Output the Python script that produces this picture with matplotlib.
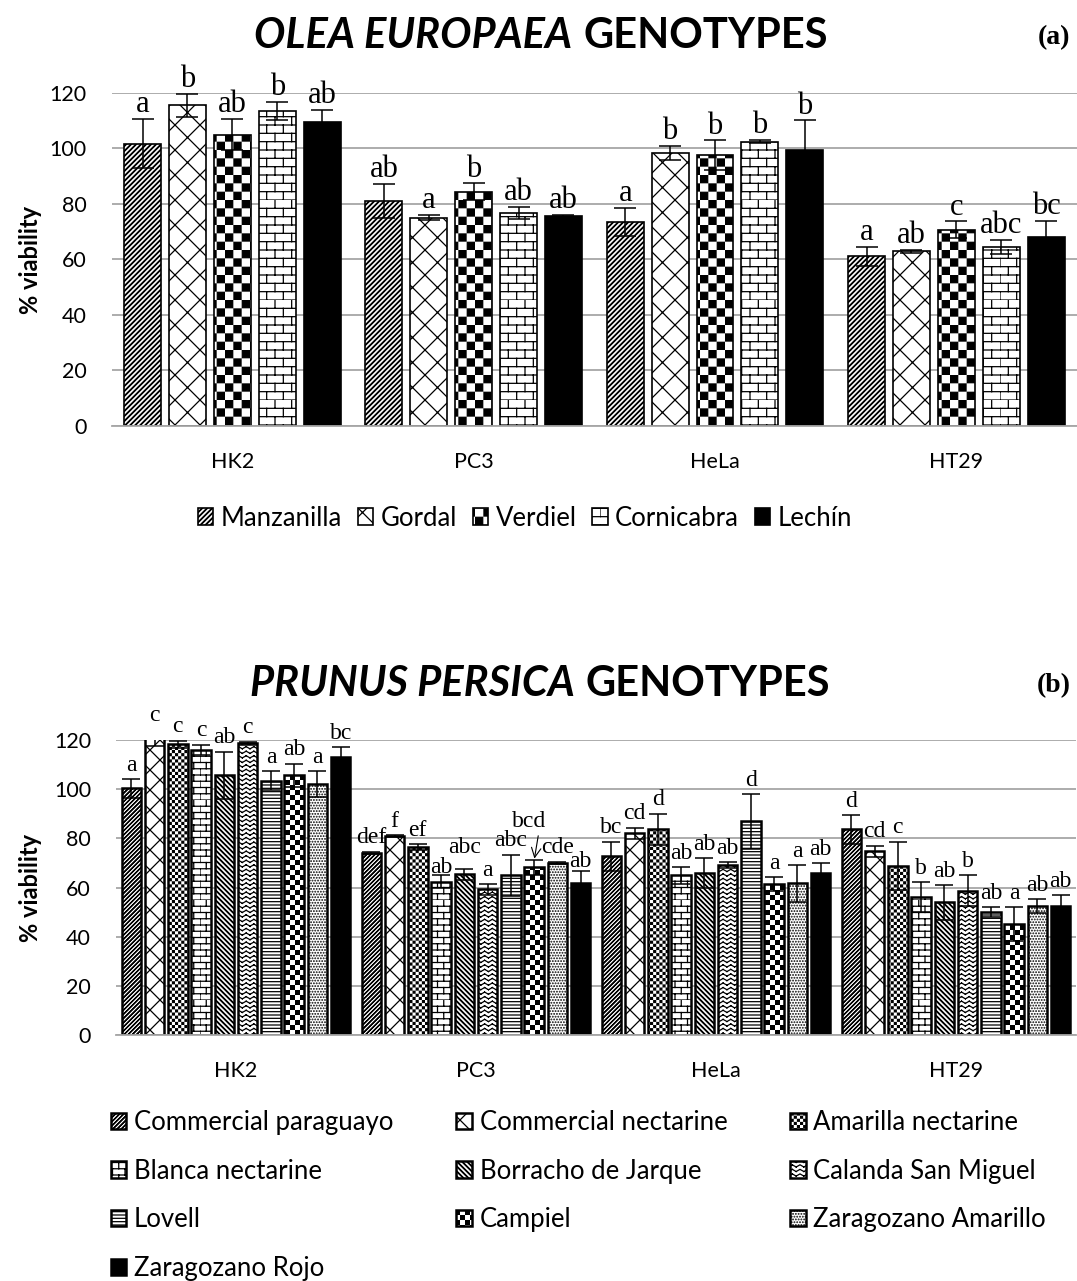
import warnings
import numpy as np
import matplotlib
matplotlib.use('Agg')
import matplotlib.pyplot as plt
import matplotlib.hatch as mhatch
from matplotlib.path import Path

warnings.filterwarnings('ignore', message='.*hatch must consist.*')

# --- Dados ---

CELL_LINES = ['HK2', 'PC3', 'HeLa', 'HT29']

OLIVE_NAMES = ['Manzanilla', 'Gordal', 'Verdiel', 'Cornicabra', 'Lechín']
# média (% viabilidade) por genótipo, na ordem HK2, PC3, HeLa, HT29
OLIVE_MEAN = [
    [101.8, 81.1, 73.6, 61.1],
    [115.6, 75.0, 98.3, 63.0],
    [105.0, 84.4, 97.5, 70.7],
    [113.5, 76.8, 102.5, 64.5],
    [109.5, 75.5, 99.4, 68.0],
]
OLIVE_SD = [
    [8.7, 6.0, 5.0, 3.5],
    [4.2, 0.9, 2.5, 0.5],
    [5.5, 3.0, 5.4, 3.0],
    [3.3, 2.2, 0.5, 2.6],
    [4.5, 0.5, 10.7, 6.0],
]
OLIVE_LETTERS = [
    ['a', 'ab', 'a', 'a'],
    ['b', 'a', 'b', 'ab'],
    ['ab', 'b', 'b', 'c'],
    ['b', 'ab', 'b', 'abc'],
    ['ab', 'ab', 'b', 'bc'],
]

PEACH_NAMES = ['Commercial paraguayo', 'Commercial nectarine', 'Amarilla nectarine',
               'Blanca nectarine', 'Borracho de Jarque', 'Calanda San Miguel',
               'Lovell', 'Campiel', 'Zaragozano Amarillo', 'Zaragozano Rojo']
PEACH_MEAN = [
    [100.3, 74.1, 72.7, 83.6],
    [121.0, 81.0, 82.0, 74.8],
    [118.2, 76.5, 83.7, 68.7],
    [116.1, 62.3, 64.9, 56.1],
    [105.7, 65.4, 66.0, 53.9],
    [118.6, 59.2, 69.0, 58.7],
    [103.5, 65.0, 86.9, 49.9],
    [105.7, 68.2, 61.4, 45.1],
    [102.0, 70.0, 61.7, 52.4],
    [113.1, 61.9, 66.1, 52.4],
]
PEACH_SD = [
    [3.8, 0.5, 5.9, 5.8],
    [3.5, 0.3, 2.3, 2.2],
    [1.5, 1.1, 6.3, 9.9],
    [2.0, 2.7, 3.4, 6.2],
    [9.5, 2.3, 6.0, 7.0],
    [0.7, 2.2, 1.2, 6.4],
    [3.8, 8.4, 11.1, 2.0],
    [4.7, 3.0, 2.7, 6.8],
    [5.3, 0.5, 7.4, 2.8],
    [4.1, 5.0, 3.7, 4.5],
]
PEACH_LETTERS = [
    ['a', 'def', 'bc', 'd'],
    ['c', 'f', 'cd', 'cd'],
    ['c', 'ef', 'd', 'c'],
    ['c', 'ab', 'ab', 'b'],
    ['ab', 'abc', 'ab', 'ab'],
    ['c', 'a', 'ab', 'b'],
    ['a', 'abc', 'd', 'ab'],
    ['ab', 'bcd', 'a', 'a'],
    ['a', 'cde', 'a', 'ab'],
    ['bc', 'ab', 'ab', 'ab'],
]
# letra desenhada acima da barra, com seta (genótipo, linha celular)
PEACH_ARROW_LABEL = (7, 1)
# ajuste vertical (pontos) de algumas letras para não se sobreporem
PEACH_LABEL_NUDGE = {(3, 1): -4.5, (4, 1): 5.0, (9, 1): -3.5}


# --- Padrões de preenchimento extra ---

def _inset():
    # o traço do hatch engrossa as formas cheias; compensa metade da espessura
    return plt.rcParams['hatch.linewidth'] / 144.0


class CheckerHatch(mhatch.HatchPatternBase):
    def __init__(self, hatch, density):
        self.n = 2 * hatch.count('c')
        self.num_vertices = (self.n * self.n // 2) * 5

    def set_vertices_and_codes(self, vertices, codes):
        n = self.n
        s = 1.0 / n
        ins = _inset()
        k = 0
        for i in range(n):
            for j in range(n):
                if (i + j) % 2:
                    continue
                x0, y0 = i * s + ins, j * s + ins
                x1, y1 = (i + 1) * s - ins, (j + 1) * s - ins
                vertices[k:k + 5] = [(x0, y0), (x1, y0), (x1, y1), (x0, y1), (x0, y0)]
                codes[k:k + 5] = [Path.MOVETO, Path.LINETO, Path.LINETO,
                                  Path.LINETO, Path.CLOSEPOLY]
                k += 5


class StripeHatch(mhatch.HatchPatternBase):
    # faixas diagonais cheias: 's' sobe para a direita, 'r' desce
    def __init__(self, hatch, density):
        self.n_up = 2 * hatch.count('s')
        self.n_down = 2 * hatch.count('r')
        self.num_vertices = 5 * ((2 * self.n_up + 1 if self.n_up else 0) +
                                 (2 * self.n_down + 1 if self.n_down else 0))

    def set_vertices_and_codes(self, vertices, codes):
        k = 0
        ins = _inset()
        for n, up in [(self.n_up, True), (self.n_down, False)]:
            if not n:
                continue
            t = 0.42 / n - 2 * ins
            for j in range(-n, n + 1):
                x0 = j / n
                if up:
                    pts = [(x0, 0), (x0 + t, 0), (x0 + t + 1, 1), (x0 + 1, 1), (x0, 0)]
                else:
                    pts = [(x0, 1), (x0 + t, 1), (x0 + t + 1, 0), (x0 + 1, 0), (x0, 1)]
                vertices[k:k + 5] = pts
                codes[k:k + 5] = [Path.MOVETO, Path.LINETO, Path.LINETO,
                                  Path.LINETO, Path.CLOSEPOLY]
                k += 5


class BrickHatch(mhatch.HatchPatternBase):
    def __init__(self, hatch, density):
        self.rows = 2 * hatch.count('b')
        self.cols = self.rows // 2
        self.num_vertices = (self.rows + self.rows * self.cols) * 2

    def set_vertices_and_codes(self, vertices, codes):
        h = 1.0 / self.rows
        w = 1.0 / self.cols
        segs = []
        for r in range(self.rows):
            y = r * h
            segs.append([(0.0, y), (1.0, y)])
            shift = 0.5 * w * (r % 2)
            for c in range(self.cols):
                x = c * w + shift
                segs.append([(x, y), (x, y + h)])
        vertices[:] = np.array(segs).reshape(-1, 2)
        codes[0::2] = Path.MOVETO
        codes[1::2] = Path.LINETO


class ZigzagHatch(mhatch.HatchPatternBase):
    def __init__(self, hatch, density):
        self.rows = 2 * hatch.count('z')
        self.waves = int(round(self.rows * 0.6))
        self.num_vertices = self.rows * self.waves * 2 * 2

    def set_vertices_and_codes(self, vertices, codes):
        xs = np.linspace(0.0, 1.0, 2 * self.waves + 1)
        amp = 0.24 / self.rows
        sign = (-1.0) ** np.arange(len(xs))
        segs = []
        for r in range(self.rows):
            ys = (r + 0.5) / self.rows + amp * sign
            pts = np.column_stack([xs, ys])
            for a, b in zip(pts[:-1], pts[1:]):
                segs.append([a, b])
        vertices[:] = np.array(segs).reshape(-1, 2)
        codes[0::2] = Path.MOVETO
        codes[1::2] = Path.LINETO


class DiamondHatch(mhatch.HatchPatternBase):
    def __init__(self, hatch, density):
        self.n = 2 * hatch.count('d')
        self.num_vertices = (self.n + 1) * 4 if self.n else 0

    def set_vertices_and_codes(self, vertices, codes):
        steps = np.linspace(-0.5, 0.5, self.n + 1)
        m = 2 * (self.n + 1)
        ne, nw = vertices[:m], vertices[m:]
        ne[0::2, 0], ne[0::2, 1] = steps, -steps
        ne[1::2, 0], ne[1::2, 1] = 1.0 + steps, 1.0 - steps
        nw[0::2, 0], nw[0::2, 1] = steps, 1.0 + steps
        nw[1::2, 0], nw[1::2, 1] = 1.0 + steps, steps
        codes[0::2] = Path.MOVETO
        codes[1::2] = Path.LINETO


mhatch._hatch_types.extend([CheckerHatch, StripeHatch, BrickHatch,
                            ZigzagHatch, DiamondHatch])

# --- Estilo ---

plt.rcParams['font.family'] = ['Lato', 'DejaVu Sans']
plt.rcParams['hatch.linewidth'] = 0.9

GRID_COLOR = '#a6a6a6'
SERIF = 'Liberation Serif'

OLIVE_HATCH = ['s' * 10, 'dddd', 'cccccc', 'bbbbbb', None]
OLIVE_FACE = ['white', 'white', 'white', 'white', 'black']
PEACH_HATCH = ['s' * 12, 'ddddd', 'c' * 16, 'b' * 8, 'r' * 10, 'z' * 11,
               '-----', 'c' * 10, '......', None]
PEACH_FACE = ['white'] * 9 + ['black']

W, H = 1077, 1281


def draw_panel(ax, names, means, sds, letters, hatches, faces, step, width,
               edge_lw, cap, label_size, label_off, arrow_label=None, nudge=None):
    nudge = nudge or {}
    n = len(names)
    xpos = np.arange(len(CELL_LINES))
    handles = []
    for i in range(n):
        x = xpos + (i - (n - 1) / 2) * step
        bars = ax.bar(x, means[i], width, color=faces[i], edgecolor='black',
                      hatch=hatches[i], linewidth=edge_lw, label=names[i], zorder=2)
        handles.append(bars)
        ax.errorbar(x, means[i], yerr=sds[i], fmt='none', ecolor='black',
                    elinewidth=1.1, capsize=cap, capthick=1.1, zorder=3)
        for j in range(len(CELL_LINES)):
            top = means[i][j] + sds[i][j]
            if arrow_label == (i, j):
                ax.annotate(letters[i][j], xy=(x[j], top), xytext=(-4, 24),
                            textcoords='offset points', ha='center', va='baseline',
                            fontfamily=SERIF, fontsize=label_size, annotation_clip=False,
                            arrowprops=dict(arrowstyle='->', lw=0.8, color='black',
                                            shrinkA=1, shrinkB=1,
                                            relpos=(0.8, 0.0)))
            else:
                off = label_off + nudge.get((i, j), 0.0)
                ax.annotate(letters[i][j], xy=(x[j], top), xytext=(0, off),
                            textcoords='offset points', ha='center', va='baseline',
                            fontfamily=SERIF, fontsize=label_size, annotation_clip=False)

    ax.set_xlim(-0.5, len(CELL_LINES) - 0.5)
    ax.set_ylim(0, 120)
    ax.set_yticks(range(0, 121, 20))
    ax.set_xticks(xpos)
    ax.set_xticklabels(CELL_LINES)
    ax.set_axisbelow(True)
    ax.grid(axis='y', color=GRID_COLOR, linewidth=1.3)
    for side in ['top', 'right', 'left']:
        ax.spines[side].set_visible(False)
    ax.spines['bottom'].set_color(GRID_COLOR)
    ax.spines['bottom'].set_linewidth(1.3)
    ax.tick_params(axis='y', length=0, pad=18, labelsize=15.5)
    ax.tick_params(axis='x', length=0, pad=19, labelsize=15.5)
    return handles


def add_title(fig, italic_part, plain_part, cx, base_y, size):
    renderer = fig.canvas.get_renderer()
    t1 = fig.text(0, 1 - base_y / H, italic_part, fontsize=size, fontweight='bold',
                  fontstyle='italic', ha='left', va='baseline')
    t2 = fig.text(0, 1 - base_y / H, plain_part, fontsize=size, fontweight='bold',
                  ha='left', va='baseline')
    w1 = t1.get_window_extent(renderer).width
    w2 = t2.get_window_extent(renderer).width
    gap = 0.27 * size * fig.dpi / 72
    x0 = cx - (w1 + gap + w2) / 2
    t1.set_x(x0 / W)
    t2.set_x((x0 + w1 + gap) / W)


def main():
    fig = plt.figure(figsize=(W / 100, H / 100), dpi=100)

    # (a) Olea europaea
    ax_a = fig.add_axes([111.7 / W, 1 - 426 / H, (1077 - 111.7) / W, 333 / H])
    h_a = draw_panel(ax_a, OLIVE_NAMES, OLIVE_MEAN, OLIVE_SD, OLIVE_LETTERS,
                     OLIVE_HATCH, OLIVE_FACE, step=0.186, width=0.153, edge_lw=1.2,
                     cap=8, label_size=22, label_off=5)
    fig.text(30 / W, 1 - 260 / H, '% viability', rotation=90, fontsize=17,
             fontweight='bold', ha='center', va='center')
    add_title(fig, 'OLEA EUROPAEA', 'GENOTYPES', 541, 48, 30)
    fig.text(1054 / W, 1 - 44 / H, '(a)', fontfamily=SERIF, fontweight='bold',
             fontsize=20, ha='center', va='baseline')
    fig.legend(handles=h_a, loc='center', bbox_to_anchor=(525 / W, 1 - 518 / H),
               ncol=5, frameon=False, fontsize=18.5, handlelength=0.6,
               handleheight=0.6, handletextpad=0.3, columnspacing=0.6,
               borderpad=0, borderaxespad=0)

    # (b) Prunus persica
    ax_b = fig.add_axes([116 / W, 1 - 1035 / H, (1076 - 116) / W, 295 / H])
    h_b = draw_panel(ax_b, PEACH_NAMES, PEACH_MEAN, PEACH_SD, PEACH_LETTERS,
                     PEACH_HATCH, PEACH_FACE, step=0.097, width=0.081, edge_lw=1.8,
                     cap=6.5, label_size=17, label_off=6,
                     arrow_label=PEACH_ARROW_LABEL, nudge=PEACH_LABEL_NUDGE)
    fig.text(30 / W, 1 - 888 / H, '% viability', rotation=90, fontsize=17,
             fontweight='bold', ha='center', va='center')
    add_title(fig, 'PRUNUS PERSICA', 'GENOTYPES', 540, 696, 30)
    fig.text(1054 / W, 1 - 692 / H, '(b)', fontfamily=SERIF, fontweight='bold',
             fontsize=20, ha='center', va='baseline')

    # legenda em 3 colunas, preenchida por linhas
    order = [0, 3, 6, 9, 1, 4, 7, 2, 5, 8]
    fig.legend(handles=[h_b[k] for k in order], loc='upper left',
               bbox_to_anchor=(111 / W, 1 - 1110 / H), ncol=3, frameon=False,
               fontsize=18.5, handlelength=0.6, handleheight=0.6,
               handletextpad=0.3, columnspacing=2.45, labelspacing=0.92,
               borderpad=0, borderaxespad=0)

    fig.savefig('out.png', dpi=100)


if __name__ == '__main__':
    main()
